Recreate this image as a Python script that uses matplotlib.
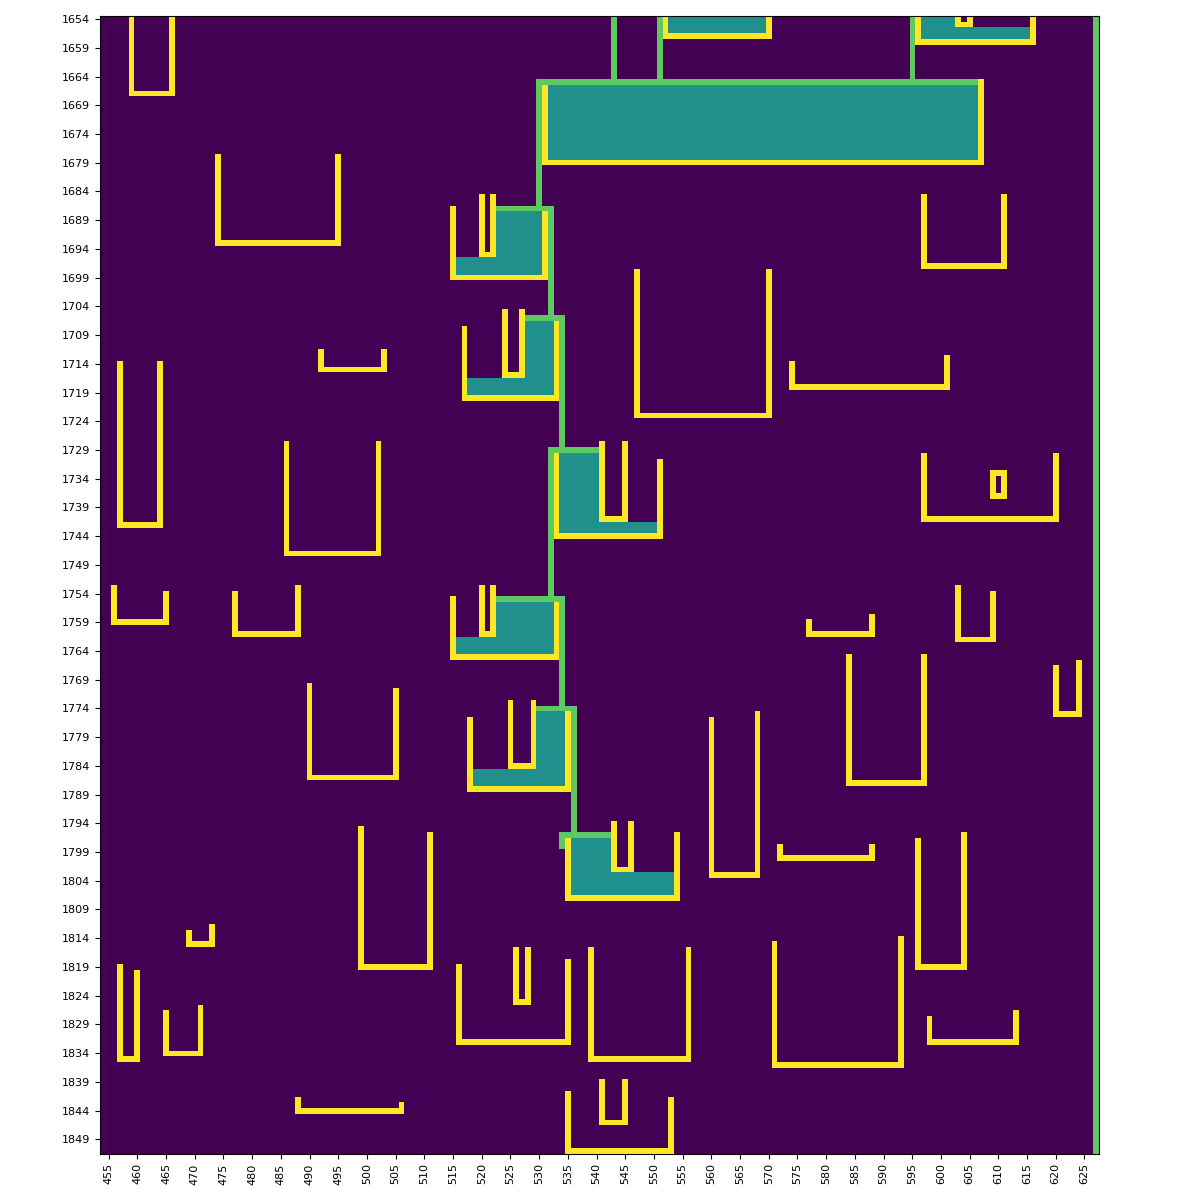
import numpy as np
import matplotlib
matplotlib.use("Agg")
import matplotlib.pyplot as plt

# grid extent (cell indices)
col_min, col_max = 454, 627
row_min, row_max = 1654, 1851

# cell levels on the viridis scale
EMPTY, FILL, LINK, WALL = 0.0, 0.5, 0.75, 1.0

# yellow U walls: (left col, right col, left top row, right top row, bottom row)
u_walls = [
    (552, 570, 1654, 1654, 1657), (596, 616, 1654, 1654, 1658), (603, 605, 1654, 1654, 1655),
    (531, 607, 1666, 1665, 1679),
    (515, 531, 1687, 1688, 1699), (520, 522, 1685, 1685, 1695),
    (517, 533, 1708, 1707, 1720), (524, 527, 1705, 1705, 1716),
    (533, 551, 1730, 1731, 1744), (541, 545, 1728, 1728, 1741),
    (515, 533, 1755, 1756, 1765), (520, 522, 1753, 1753, 1761),
    (518, 535, 1776, 1775, 1788), (525, 529, 1773, 1773, 1784),
    (535, 554, 1797, 1796, 1807), (543, 546, 1794, 1794, 1802),
    (459, 466, 1654, 1654, 1667), (474, 495, 1678, 1678, 1693),
    (492, 503, 1712, 1712, 1715), (457, 464, 1714, 1714, 1742),
    (486, 502, 1728, 1728, 1747), (456, 465, 1753, 1754, 1759),
    (477, 488, 1754, 1753, 1761), (490, 505, 1770, 1771, 1786),
    (499, 511, 1795, 1796, 1819), (469, 473, 1813, 1812, 1815),
    (457, 460, 1819, 1820, 1835), (465, 471, 1827, 1826, 1834),
    (488, 506, 1842, 1843, 1844), (547, 570, 1698, 1698, 1723),
    (560, 568, 1776, 1775, 1803), (516, 535, 1819, 1818, 1832),
    (526, 528, 1816, 1816, 1825), (539, 556, 1816, 1816, 1835),
    (535, 553, 1841, 1842, 1851), (541, 545, 1839, 1839, 1846),
    (597, 611, 1685, 1685, 1697), (574, 601, 1714, 1713, 1718),
    (597, 620, 1730, 1730, 1741), (577, 588, 1759, 1758, 1761),
    (603, 609, 1753, 1754, 1762), (584, 597, 1765, 1765, 1787),
    (620, 624, 1767, 1766, 1775), (572, 588, 1798, 1798, 1800),
    (596, 604, 1797, 1796, 1819), (571, 593, 1815, 1814, 1836),
    (598, 613, 1828, 1827, 1832), (609, 611, 1733, 1733, 1737),
]
# extra yellow horizontal walls: (row, col start, col end)
h_walls = [(1733, 609, 611)]

# teal filled blocks: (col start, col end, row start, row end)
fills = [
    (553, 569, 1654, 1656), (597, 602, 1654, 1655), (597, 615, 1656, 1657),
    (532, 606, 1666, 1678),
    (523, 530, 1688, 1698), (516, 522, 1696, 1698),
    (528, 532, 1707, 1719), (518, 527, 1717, 1719),
    (534, 540, 1730, 1743), (541, 550, 1742, 1743),
    (523, 532, 1756, 1764), (516, 522, 1762, 1764),
    (530, 534, 1775, 1787), (519, 529, 1785, 1787),
    (536, 542, 1797, 1806), (543, 553, 1803, 1806),
]

# green links: vertical (col, row start, row end) and horizontal (row, col start, col end)
v_links = [
    (543, 1654, 1665), (551, 1654, 1665), (595, 1654, 1665),
    (530, 1665, 1687), (532, 1687, 1706), (534, 1706, 1729),
    (532, 1729, 1755), (534, 1755, 1774), (536, 1774, 1796),
    (534, 1796, 1798), (627, 1654, 1851),
]
h_links = [
    (1665, 530, 606), (1687, 523, 532), (1706, 528, 534), (1729, 532, 540),
    (1755, 523, 534), (1774, 530, 536), (1796, 534, 542),
]

grid = np.full((row_max - row_min + 1, col_max - col_min + 1), EMPTY)


def paint(c0, c1, r0, r1, v):
    grid[r0 - row_min:r1 - row_min + 1, c0 - col_min:c1 - col_min + 1] = v


for c0, c1, r0, r1 in fills:
    paint(c0, c1, r0, r1, FILL)
for c, r0, r1 in v_links:
    paint(c, c, r0, r1, LINK)
for r, c0, c1 in h_links:
    paint(c0, c1, r, r, LINK)
for cl, cr, tl, tr, b in u_walls:
    paint(cl, cl, tl, b, WALL)
    paint(cr, cr, tr, b, WALL)
    paint(cl, cr, b, b, WALL)
for r, c0, c1 in h_walls:
    paint(c0, c1, r, r, WALL)

fig = plt.figure(figsize=(12, 12), dpi=100)
ax = fig.add_axes([0.08333, 0.03867, 0.83233, 0.94775])
ax.imshow(grid, cmap="viridis", vmin=0, vmax=1, interpolation="nearest",
          extent=(col_min - 0.5, col_max + 0.5, row_max + 0.5, row_min - 0.5),
          aspect="auto")
ax.set_xticks(range(455, 626, 5))
ax.set_xticklabels([str(v) for v in range(455, 626, 5)], rotation=90, fontsize=8)
ax.set_yticks(range(1654, 1850, 5))
ax.set_yticklabels([str(v) for v in range(1654, 1850, 5)], fontsize=8)

fig.savefig("out.png", dpi=100)
